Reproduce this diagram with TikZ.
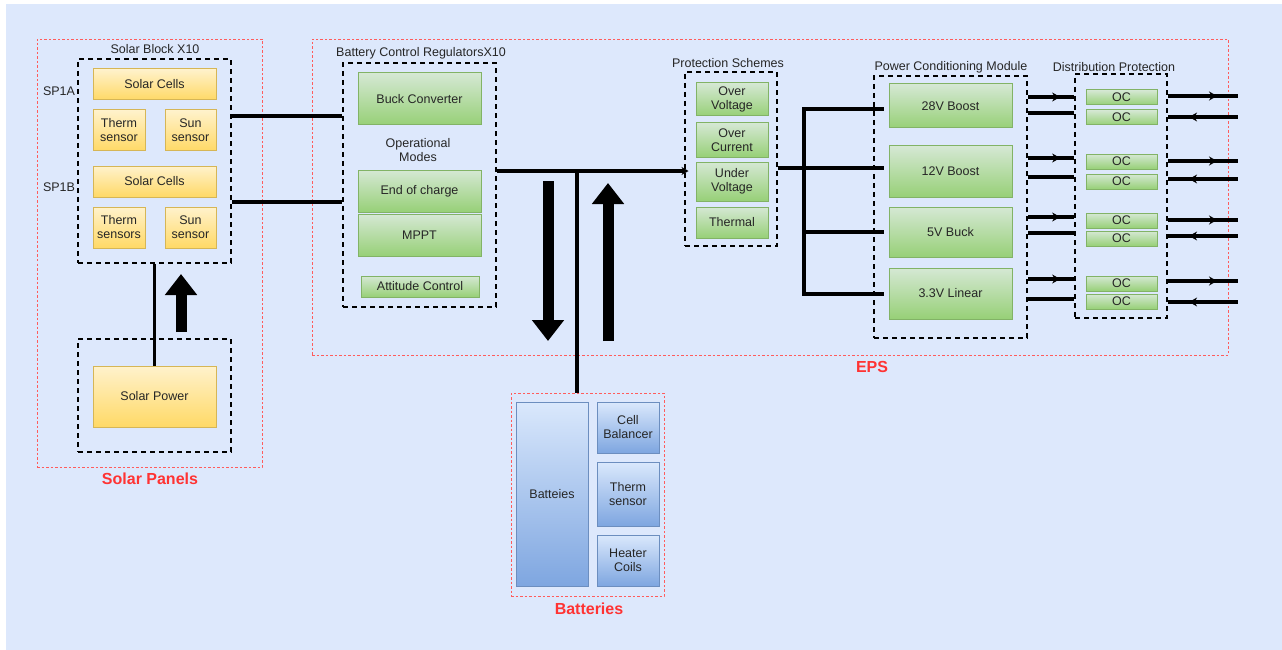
\documentclass[tikz,border=0pt]{standalone}
\usepackage{fontspec}
\setmainfont{Liberation Sans}
\usetikzlibrary{arrows.meta,decorations.markings}
\definecolor{bgc}{RGB}{221,232,252}
\definecolor{gtop}{RGB}{213,232,212}
\definecolor{gbot}{RGB}{151,208,119}
\definecolor{gbord}{RGB}{130,179,102}
\definecolor{ytop}{RGB}{255,242,204}
\definecolor{ybot}{RGB}{255,217,102}
\definecolor{ybord}{RGB}{214,182,86}
\definecolor{btop}{RGB}{218,232,252}
\definecolor{bbot}{RGB}{126,166,224}
\definecolor{bbord}{RGB}{108,142,191}
\definecolor{redc}{RGB}{255,51,51}
\newcommand\bx[7]{\node[#1, minimum width={(#5)-(#3)}, minimum height={(#6)-(#4)}] (#2) at ({((#3)+(#5))/2},{((#4)+(#6))/2}) {#7};}
\begin{document}
\begin{tikzpicture}[x=1pt,y=-1pt,
  box/.style={draw, line width=1pt, inner sep=1pt, align=center, font=\fontsize{12.5}{14}\selectfont, text=black!85},
  gbox/.style={box, draw=gbord, top color=gtop, bottom color=gbot},
  ybox/.style={box, draw=ybord, top color=ytop, bottom color=ybot},
  bbox/.style={box, draw=bbord, top color=btop, bottom color=bbot},
  grp/.style={draw=black, line width=2.2pt, dash pattern=on 5pt off 4pt, inner sep=0pt},
  frame/.style={draw=redc!80, line width=0.9pt, dash pattern=on 2.5pt off 2pt, inner sep=0pt},
  wire/.style={line width=3.6pt},
  owire/.style={line width=4pt},
  lbl/.style={font=\fontsize{12.5}{14}\selectfont, text=black!85, inner sep=0pt, align=center},
  rlbl/.style={font=\fontsize{16}{18}\selectfont\bfseries, text=redc, inner sep=0pt},
  blk/.style={line width=11pt, -{Triangle[width=31pt,length=21pt]}},
  midr/.style={postaction={decorate}, decoration={markings, mark=at position 0.7 with {\arrow{Stealth[length=8pt,width=9pt]}}}},
  midl/.style={postaction={decorate}, decoration={markings, mark=at position 0.3 with {\arrowreversed{Stealth[length=8pt,width=9pt]}}}}
]
\useasboundingbox (0,0) rectangle (1282,650);
\fill[white] (0,0) rectangle (1282,650);
\fill[bgc] (6,4) rectangle (1282,650);

% Solar panels
\bx{frame}{spf}{37}{39}{262}{467}{}
\bx{grp}{sb}{78}{59}{231}{263}{}
\bx{ybox}{sc1}{93}{69}{216}{100}{Solar Cells}
\bx{ybox}{ts1}{93}{110}{145}{151}{Therm\\sensor}
\bx{ybox}{ss1}{165}{110}{216}{151}{Sun\\sensor}
\bx{ybox}{sc2}{93}{166}{216}{197}{Solar Cells}
\bx{ybox}{ts2}{93}{207}{145}{248}{Therm\\sensors}
\bx{ybox}{ss2}{165}{207}{216}{248}{Sun\\sensor}
\bx{grp}{spg}{78}{339}{231}{452}{}
\bx{ybox}{sp}{93}{366}{216}{427}{Solar Power}
\node[lbl] (tsb) at (155,49) {Solar Block X10};
\node[lbl] (tsa) at (59,91) {SP1A};
\node[lbl] (tsbb) at (59,187) {SP1B};
\node[rlbl] (tsp) at (150,479) {Solar Panels};

% EPS
\bx{frame}{epsf}{312}{39}{1228}{355}{}
\node[rlbl] (teps) at (872,367) {EPS};
\bx{grp}{bcr}{343}{63}{496}{307}{}
\bx{gbox}{buck}{358}{73}{481}{125}{Buck Converter}
\bx{gbox}{eoc}{358}{170}{481}{212}{End of charge}
\bx{gbox}{mppt}{358}{214}{481}{256}{MPPT}
\bx{gbox}{att}{361}{276}{479}{297}{Attitude Control}
\node[lbl] (tbcr) at (421,53) {Battery Control RegulatorsX10};
\node[lbl] (tom) at (418,150) {Operational\\Modes};

\bx{grp}{ps}{685}{72}{777}{246}{}
\bx{gbox}{ov}{696}{83}{768}{116}{Over\\Voltage}
\bx{gbox}{ocr}{696}{123}{768}{157}{Over\\Current}
\bx{gbox}{uv}{696}{162}{768}{201}{Under\\Voltage}
\bx{gbox}{th}{696}{207}{768}{238}{Thermal}
\node[lbl] (tps) at (728,63) {Protection Schemes};

\bx{grp}{pcm}{874}{76}{1027}{338}{}
\bx{gbox}{b28}{889}{84}{1012}{128}{28V Boost}
\bx{gbox}{b12}{889}{146}{1012}{197}{12V Boost}
\bx{gbox}{b5}{889}{207}{1012}{257}{5V Buck}
\bx{gbox}{b33}{889}{268}{1012}{319}{3.3V Linear}
\node[lbl] (tpcm) at (951,67) {Power Conditioning Module};

\bx{grp}{dp}{1075}{74}{1167}{318}{}
\bx{gbox}{oc1}{1086}{90}{1157}{105}{OC}
\bx{gbox}{oc2}{1086}{110}{1157}{125}{OC}
\bx{gbox}{oc3}{1086}{154}{1157}{169}{OC}
\bx{gbox}{oc4}{1086}{174}{1157}{189}{OC}
\bx{gbox}{oc5}{1086}{213}{1157}{228}{OC}
\bx{gbox}{oc6}{1086}{231}{1157}{246}{OC}
\bx{gbox}{oc7}{1086}{276}{1157}{291}{OC}
\bx{gbox}{oc8}{1086}{294}{1157}{309}{OC}
\node[lbl] (tdp) at (1114,67) {Distribution Protection};

% Batteries
\bx{frame}{batf}{511}{393}{664}{596}{}
\bx{bbox}{bat}{516}{402}{588}{586}{Batteies}
\bx{bbox}{cb}{597}{402}{659}{453}{Cell\\Balancer}
\bx{bbox}{bts}{597}{462}{659}{526}{Therm\\sensor}
\bx{bbox}{hc}{597}{535}{659}{586}{Heater\\Coils}
\node[rlbl] (tbat) at (589,609) {Batteries};

% coordinates
\coordinate (ya) at (0,116);
\coordinate (yb) at (0,202);
\coordinate (upS) at (181,332);
\coordinate (upE) at (181,274);
\coordinate (bus) at (577,171);
\coordinate (dnS) at (548,181);
\coordinate (dnE) at (548,341);
\coordinate (up2S) at (608,341);
\coordinate (up2E) at (608,183);
\coordinate (pb1) at (804,109);
\coordinate (pb2) at (804,168);
\coordinate (pb3) at (804,232);
\coordinate (pb4) at (804,294);
\coordinate (pe) at (884,0);

% connectors
\draw[wire] (sb.east |- ya) -- (bcr.west |- ya);
\draw[wire] (sb.east |- yb) -- (bcr.west |- yb);
\draw[wire] (sp.north) -- (sb.south);
\draw[blk] (upS) -- (upE);
\draw[wire, -{Stealth[length=7pt,width=8pt]}] (bcr.east |- bus) -- ([xshift=-7pt]uv.west |- bus);
\draw[wire] (bus) -- (bus |- batf.north);
\draw[blk] (dnS) -- (dnE);
\draw[blk] (up2S) -- (up2E);
\draw[wire] (ps.east |- pb2) -- (pb2);
\draw[wire, line cap=rect] (pb1) -- (pb4);
\draw[wire] (pb1) -- (pb1 -| pe);
\draw[wire] (pb2) -- (pb2 -| pe);
\draw[wire] (pb3) -- (pb3 -| pe);
\draw[wire] (pb4) -- (pb4 -| pe);

\foreach \ya/\yb in {97/113,158/177,217/233,279/299}{
  \draw[wire, midr] (pcm.east |- 0,\ya) -- (dp.west |- 0,\ya);
  \draw[wire] (pcm.east |- 0,\yb) -- (dp.west |- 0,\yb);
}
\foreach \ya/\yb in {96/117,161/179,220/236,281/302}{
  \draw[owire, midr] (dp.east |- 0,\ya) -- (1238,\ya);
  \draw[owire, midl] (dp.east |- 0,\yb) -- (1238,\yb);
}
\end{tikzpicture}
\end{document}
